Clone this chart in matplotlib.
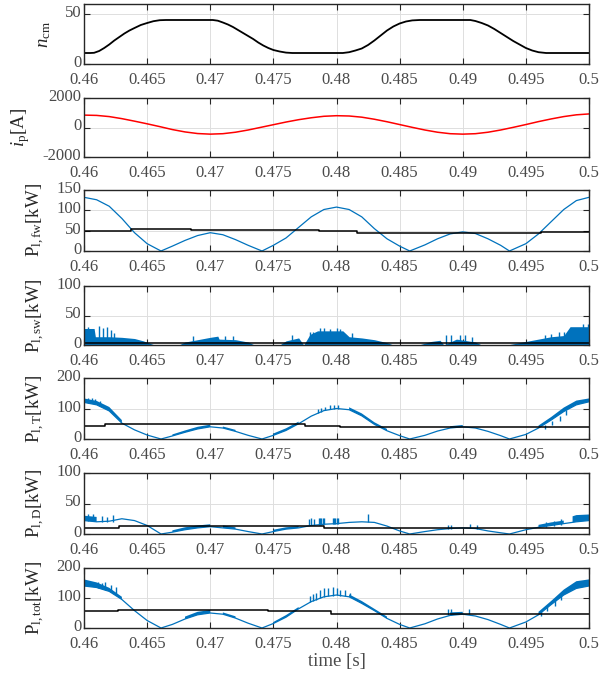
import numpy as np
import matplotlib
matplotlib.use("Agg")
import matplotlib.pyplot as plt
from matplotlib.transforms import ScaledTranslation

nan = np.nan
# ---------------- data ----------------
xticks = [0.46, 0.465, 0.47, 0.475, 0.48, 0.485, 0.49, 0.495, 0.5]
xtick_labels = ['0.46', '0.465', '0.47', '0.475', '0.48', '0.485', '0.49', '0.495', '0.5']

# panel 1: n_cm
t_n = [0.4600, 0.4605, 0.4608, 0.4612, 0.4616, 0.4620, 0.4624, 0.4628, 0.4632, 0.4636,
       0.4640, 0.4645, 0.4650, 0.4655, 0.4660, 0.4665,
       0.4702, 0.4706, 0.4710, 0.4714, 0.4718, 0.4722, 0.4726, 0.4730, 0.4734, 0.4738,
       0.4742, 0.4746, 0.4750, 0.4755, 0.4760, 0.4765,
       0.4805, 0.4810, 0.4815, 0.4820, 0.4825, 0.4830, 0.4835, 0.4840, 0.4845, 0.4850,
       0.4855, 0.4860, 0.4866,
       0.4906, 0.4910, 0.4915, 0.4920, 0.4925, 0.4930, 0.4935, 0.4940, 0.4945, 0.4950,
       0.4955, 0.4960, 0.4966, 0.5000]
n_cm = [11, 11, 11.2, 13, 16, 19.5, 23.5, 27, 30.5, 33.5,
        36, 39, 41, 42.8, 43.8, 44,
        44, 43.3, 41.5, 39.5, 37, 34, 31, 28, 25, 21.5,
        18.5, 16, 14, 12.5, 11.4, 11,
        11, 11.8, 13.5, 15.5, 19, 23.5, 28.5, 33.5, 37.5, 40.5,
        42.5, 43.6, 44,
        44, 43, 41, 38.5, 35, 31, 27, 23, 19.5, 16,
        13.5, 11.8, 11, 11]

# panel 2: i_p
t_ip = [0.460, 0.461, 0.462, 0.463, 0.464, 0.465, 0.466, 0.467, 0.468, 0.469, 0.470,
        0.471, 0.472, 0.473, 0.474, 0.475, 0.476, 0.477, 0.478, 0.479, 0.480,
        0.481, 0.482, 0.483, 0.484, 0.485, 0.486, 0.487, 0.488, 0.489, 0.490,
        0.491, 0.492, 0.493, 0.494, 0.495, 0.496, 0.497, 0.498, 0.499, 0.500]
i_p = [840, 820, 740, 600, 430, 250, 60, -140, -300, -410, -450,
       -420, -320, -170, 10, 190, 370, 530, 660, 760, 800,
       780, 700, 560, 390, 200, 10, -170, -320, -420, -450,
       -420, -320, -170, 10, 200, 400, 580, 740, 860, 920]

# shared time grid for the loss curves
t_pw = [0.460, 0.461, 0.462, 0.463, 0.464, 0.465, 0.4661, 0.467, 0.468, 0.469, 0.470,
        0.471, 0.472, 0.473, 0.4741, 0.475, 0.476, 0.477, 0.478, 0.479, 0.480,
        0.481, 0.482, 0.483, 0.484, 0.485, 0.4858, 0.487, 0.488, 0.489, 0.490,
        0.491, 0.492, 0.493, 0.4937, 0.495, 0.496, 0.497, 0.498, 0.499, 0.500]

# panel 3: P_l,fw
p_fw = [132, 126, 110, 80, 45, 18, 0, 12, 26, 38, 45, 40, 28, 14, 0, 14, 32, 58, 84, 102, 108,
        102, 84, 55, 30, 12, 0, 15, 30, 42, 47, 43, 30, 14, 0, 18, 42, 72, 102, 124, 132]
fw_avg_t = [0.4600, 0.4637, 0.4685, 0.4786, 0.4816, 0.4962, 0.5000]
fw_avg = [50, 53, 51, 48, 45, 47, 47]

# panel 4: P_l,sw
sw_t = [0.4600, 0.4608, 0.4609, 0.4620, 0.4630, 0.4640, 0.4647, 0.4652, 0.4656, 0.4675,
        0.4680, 0.4690, 0.4700, 0.4706, 0.4707, 0.4720, 0.4730, 0.4735, 0.4755, 0.4760,
        0.4770, 0.4774, 0.4779, 0.4785, 0.4805, 0.4810, 0.4820, 0.4830, 0.4840, 0.4845,
        0.4865, 0.4875, 0.4882, 0.4885, 0.4895, 0.4910, 0.4915, 0.4935, 0.4950, 0.4960,
        0.4970, 0.4980, 0.4985, 0.5000]
sw_env = [28, 28, 14, 14, 13, 11, 7, 3, 0, 0,
          5, 9, 13, 15, 10, 9, 5, 0, 0, 7,
          12, 0, 18, 24, 24, 14, 12, 9, 4, 0,
          0, 6, 8, 0, 10, 5, 0, 0, 6, 10,
          14, 16, 31, 31]
sw_spk_t = [0.4603, 0.4605, 0.4612, 0.4615, 0.4618, 0.4621, 0.4624, 0.4686, 0.4712, 0.4718,
            0.4765, 0.4779, 0.4781, 0.4787, 0.4790, 0.4795, 0.4800, 0.4803, 0.4812, 0.4887,
            0.4891, 0.4898, 0.4902, 0.4907, 0.4965, 0.4970, 0.4976, 0.4980, 0.4995, 0.4999]
sw_spk_hi = [30, 27, 33, 28, 30, 25, 20, 16, 16, 16,
             17, 22, 22, 28, 28, 27, 28, 27, 20, 17,
             17, 17, 17, 14, 17, 19, 22, 22, 35, 35]
sw_avg_t = [0.460, 0.500]
sw_avg = [4, 4]

# panel 5: P_l,T
p_T = [120, 112, 92, 52, 30, 13, 0, 10, 22, 33, 40, 36, 25, 12, 0, 12, 28, 50, 75, 93, 100,
       96, 76, 48, 27, 11, 0, 12, 26, 36, 40, 36, 25, 11, 0, 15, 36, 62, 90, 112, 122]
T_band_t = [0.460, 0.461, 0.462, 0.463, nan, 0.467, 0.468, 0.469, 0.470, nan,
            0.471, 0.472, nan, 0.475, 0.476, 0.477, nan, 0.481, 0.482, 0.483, 0.484, nan,
            0.489, 0.490, nan, 0.496, 0.497, 0.498, 0.499, 0.500]
T_band_lo = [120, 112, 92, 52, nan, 10, 22, 33, 40, nan, 36, 25, nan, 12, 28, 50, nan,
             96, 76, 48, 27, nan, 36, 40, nan, 36, 62, 90, 112, 122]
T_band_hi = [133, 125, 105, 62, nan, 15, 28, 40, 47, nan, 41, 30, nan, 18, 35, 57, nan,
             104, 84, 55, 33, nan, 42, 46, nan, 44, 72, 103, 126, 133]
T_spk_t = [0.4603, 0.4606, 0.4609, 0.4613, 0.4785, 0.4788, 0.4791, 0.4795, 0.4798, 0.4801,
           0.4965, 0.4971, 0.4977, 0.4982]
T_spk_lo = [119, 118, 116, 108, 84, 89, 94, 97, 99, 100, 32, 45, 60, 78]
T_spk_hi = [134, 133, 130, 124, 98, 102, 106, 110, 110, 110, 46, 60, 76, 94]
T_avg_t = [0.4600, 0.4617, 0.4775, 0.4803, 0.5000]
T_avg = [44, 48, 43, 39, 39]

# panel 6: P_l,D
p_D = [22, 20, 21, 25, 22, 14, 0, 3, 7, 10, 12, 10, 8, 4, 0, 4, 8, 10, 14, 16, 17,
       19, 20, 19, 13, 5, 0, 4, 7, 9, 10, 9, 5, 2, 0, 7, 11, 14, 17, 20, 22]
D_band_t = [0.460, 0.461, nan, 0.467, 0.468, 0.469, 0.470, nan, 0.471, 0.472, nan,
            0.475, 0.476, 0.477, nan, 0.496, 0.497, 0.498, nan, 0.4987, 0.499, 0.500]
D_band_lo = [22, 20, nan, 3, 7, 10, 12, nan, 10, 8, nan, 4, 8, 10, nan, 11, 14, 17, nan,
             19, 20, 22]
D_band_hi = [30, 28, nan, 6, 11, 14, 16, nan, 14, 11, nan, 7, 11, 13, nan, 15, 19, 22, nan,
             29, 31, 32]
D_spk_t = [0.4603, 0.4607, 0.4614, 0.4618, 0.4623, 0.4778, 0.4780, 0.4782,
           0.4786, 0.4787, 0.4788, 0.4789, 0.4790, 0.4797, 0.4798, 0.4799, 0.4800, 0.4801,
           0.4825, 0.4888, 0.4891, 0.4906, 0.4911, 0.4966, 0.4972, 0.4978]
D_spk_lo = [21, 21, 20, 19, 20, 14, 14, 14,
            15, 15, 15, 15, 16, 16, 16, 16, 17, 17,
            20, 8, 9, 10, 9, 11, 13, 15]
D_spk_hi = [32, 33, 30, 28, 31, 25, 26, 25,
            26, 26, 26, 26, 26, 26, 26, 26, 26, 26,
            32, 15, 15, 16, 15, 19, 21, 24]
D_avg_t = [0.4600, 0.4628, 0.4790, 0.5000]
D_avg = [10, 13, 10, 10]

# panel 7: P_l,tot
p_tot = [140, 135, 122, 95, 58, 25, 0, 12, 30, 44, 50, 46, 33, 16, 0, 15, 36, 64, 88, 104, 110,
         104, 82, 58, 32, 12, 0, 14, 30, 42, 46, 40, 28, 12, 0, 20, 44, 78, 110, 132, 140]
tot_band_t = [0.460, 0.461, 0.462, 0.463, nan, 0.468, 0.469, 0.470, nan, 0.471, 0.472, nan,
              0.475, 0.476, 0.477, nan, 0.481, 0.482, 0.483, 0.484, nan, 0.489, 0.490, nan,
              0.496, 0.497, 0.498, 0.499, 0.500]
tot_band_lo = [140, 135, 122, 95, nan, 30, 44, 50, nan, 46, 33, nan, 15, 36, 64, nan,
               104, 82, 58, 32, nan, 42, 46, nan, 44, 78, 110, 132, 140]
tot_band_hi = [162, 152, 134, 104, nan, 38, 54, 60, nan, 52, 39, nan, 20, 43, 70, nan,
               112, 90, 64, 38, nan, 52, 54, nan, 54, 90, 128, 156, 162]
tot_spk_t = [0.4611, 0.4614, 0.4617, 0.4621, 0.4625, 0.4779, 0.4781, 0.4784, 0.4787, 0.4790,
             0.4793, 0.4797, 0.4800, 0.4803, 0.4807, 0.4811, 0.4888, 0.4891, 0.4905, 0.4962,
             0.4967, 0.4973, 0.4978]
tot_spk_lo = [134, 131, 127, 120, 113, 86, 90, 94, 99, 104, 106, 108, 110, 108, 106, 103,
              42, 43, 46, 40, 56, 72, 92]
tot_spk_hi = [155, 150, 152, 145, 138, 108, 112, 118, 128, 135, 133, 137, 132, 128, 126, 118,
              62, 64, 62, 58, 72, 94, 112]
tot_avg_t = [0.4600, 0.4627, 0.4746, 0.4796, 0.5000]
tot_avg = [56, 61, 56, 48, 48]

# ---------------- style ----------------
plt.rcParams['font.family'] = ['Liberation Serif', 'DejaVu Serif']
plt.rcParams['mathtext.fontset'] = 'custom'
plt.rcParams['mathtext.rm'] = 'Liberation Serif'
plt.rcParams['mathtext.it'] = 'Liberation Serif:italic'
plt.rcParams['axes.unicode_minus'] = False

BLUE = '#0072BD'
TICKC = '#4a4a4a'
W, H = 616, 675
fig = plt.figure(figsize=(W / 100, H / 100), dpi=100)

rows = [(4, 64), (98, 157), (190, 251), (286, 345), (378, 439), (473, 534), (568, 628)]
x0, x1 = 84, 589

ylims = [(0, 60), (-2000, 2000), (0, 150), (0, 100), (0, 200), (0, 100), (0, 200)]
yticks = [[0, 50], [-2000, 0, 2000], [0, 50, 100, 150], [0, 50, 100],
          [0, 100, 200], [0, 50, 100], [0, 100, 200]]
ylabels = [r'$n_{\mathrm{cm}}$', r'$i_{\mathrm{p}}$[A]', r'P$_{\mathrm{l,fw}}$[kW]',
           r'P$_{\mathrm{l,sw}}$[kW]', r'P$_{\mathrm{l,T}}$[kW]', r'P$_{\mathrm{l,D}}$[kW]',
           r'P$_{\mathrm{l,tot}}$[kW]']
label_x = [-0.061, -0.103, -0.074, -0.074, -0.074, -0.074, -0.074]
yshift = ScaledTranslation(0, 3.0 / 100, fig.dpi_scale_trans)

axes = []
for k, (top, bot) in enumerate(rows):
    ax = fig.add_axes([x0 / W, (H - bot) / H, (x1 - x0) / W, (bot - top) / H])
    ax.set_xlim(0.46, 0.5)
    ax.set_ylim(*ylims[k])
    ax.set_xticks(xticks)
    ax.set_xticklabels(xtick_labels)
    ax.set_yticks(yticks[k])
    ax.grid(True, color='#dedede', lw=0.7)
    ax.set_axisbelow(True)
    ax.tick_params(direction='in', top=True, right=True, length=4, width=0.8,
                   labelsize=12, labelcolor=TICKC, color='#262626')
    ax.tick_params(axis='x', pad=5.5)
    ax.tick_params(axis='y', pad=2)
    for s in ax.spines.values():
        s.set_linewidth(1.0)
        s.set_color('#262626')
    ax.set_ylabel(ylabels[k], fontsize=13.5, color='#262626')
    ax.yaxis.set_label_coords(label_x[k], 0.5)
    for lbl in ax.get_yticklabels():
        lbl.set_transform(lbl.get_transform() + yshift)
    axes.append(ax)

# panel 1
axes[0].plot(t_n, n_cm, color='black', lw=1.3)
# panel 2
axes[1].plot(t_ip, i_p, color='red', lw=1.1)
# panel 3
axes[2].plot(t_pw, p_fw, color=BLUE, lw=0.9)
axes[2].plot(fw_avg_t, fw_avg, color='black', lw=1.1, drawstyle='steps-post')
# panel 4
axes[3].fill_between(sw_t, 0, sw_env, color=BLUE, lw=0)
axes[3].vlines(sw_spk_t, 0, sw_spk_hi, color=BLUE, lw=1.0)
axes[3].plot(sw_avg_t, sw_avg, color='black', lw=1.1)
# panel 5
axes[4].plot(t_pw, p_T, color=BLUE, lw=0.9)
axes[4].fill_between(T_band_t, T_band_lo, T_band_hi, color=BLUE, lw=0)
axes[4].vlines(T_spk_t, T_spk_lo, T_spk_hi, color=BLUE, lw=1.0)
axes[4].plot(T_avg_t, T_avg, color='black', lw=1.1, drawstyle='steps-post')
# panel 6
axes[5].plot(t_pw, p_D, color=BLUE, lw=0.9)
axes[5].fill_between(D_band_t, D_band_lo, D_band_hi, color=BLUE, lw=0)
axes[5].vlines(D_spk_t, D_spk_lo, D_spk_hi, color=BLUE, lw=1.0)
axes[5].plot(D_avg_t, D_avg, color='black', lw=1.1, drawstyle='steps-post')
# panel 7
axes[6].plot(t_pw, p_tot, color=BLUE, lw=0.9)
axes[6].fill_between(tot_band_t, tot_band_lo, tot_band_hi, color=BLUE, lw=0)
axes[6].vlines(tot_spk_t, tot_spk_lo, tot_spk_hi, color=BLUE, lw=1.0)
axes[6].plot(tot_avg_t, tot_avg, color='black', lw=1.1, drawstyle='steps-post')
axes[6].set_xlabel('time [s]', fontsize=13.5, color=TICKC, labelpad=1)

fig.savefig('out.png', dpi=100)
